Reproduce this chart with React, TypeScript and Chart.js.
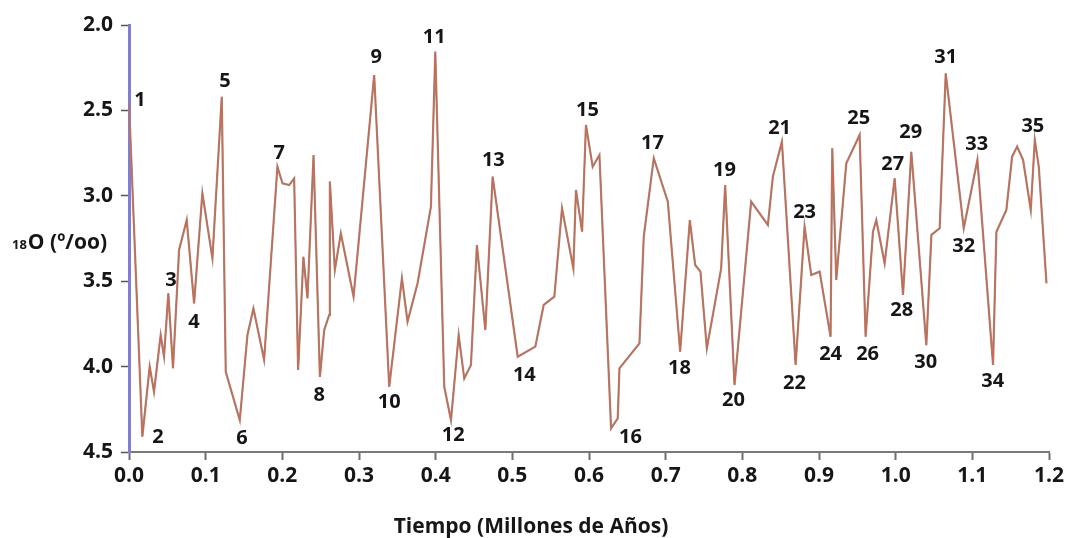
import React, { useEffect, useRef } from "react";
import { Chart, registerables } from "chart.js";

Chart.register(...registerables);

// Time (millions of years) and δ18O values (‰)
const times = [0, 0.0174, 0.027, 0.0326, 0.0413, 0.0457, 0.0513, 0.0574, 0.0653, 0.0753, 0.0849, 0.0957, 0.1088, 0.121, 0.1262, 0.1445, 0.1545, 0.1623, 0.1762, 0.1936, 0.2002, 0.2089, 0.2154, 0.2206, 0.2275, 0.2328, 0.2407, 0.249, 0.2546, 0.2611, 0.262, 0.2685, 0.2763, 0.2929, 0.3198, 0.3394, 0.356, 0.3633, 0.3764, 0.3938, 0.3995, 0.4112, 0.42, 0.43, 0.4373, 0.446, 0.4538, 0.4648, 0.4743, 0.507, 0.53, 0.5409, 0.5548, 0.5648, 0.5796, 0.583, 0.591, 0.596, 0.6048, 0.6136, 0.6288, 0.6375, 0.6397, 0.6658, 0.6714, 0.6845, 0.7028, 0.7189, 0.7315, 0.7385, 0.7454, 0.7537, 0.7724, 0.7776, 0.7898, 0.8115, 0.8333, 0.8398, 0.8516, 0.8695, 0.8812, 0.8899, 0.9008, 0.9151, 0.9173, 0.9225, 0.9356, 0.953, 0.9608, 0.9704, 0.9747, 0.9856, 0.9987, 1.0096, 1.0204, 1.04, 1.0466, 1.0574, 1.0653, 1.0888, 1.1066, 1.127, 1.1314, 1.1444, 1.1519, 1.1584, 1.1662, 1.1762, 1.1815, 1.1867, 1.1967];

const o18 = [2.45, 4.41, 4.0, 4.147, 3.815, 3.94, 3.571, 4.01, 3.317, 3.142, 3.63, 2.985, 3.366, 2.42, 4.03, 4.313, 3.815, 3.66, 3.96, 2.83, 2.927, 2.937, 2.898, 4.02, 3.357, 3.6, 2.761, 4.06, 3.786, 3.698, 2.917, 3.434, 3.22, 3.59, 2.293, 4.118, 3.483, 3.737, 3.512, 3.064, 2.156, 4.118, 4.313, 3.815, 4.07, 3.99, 3.288, 3.786, 2.888, 3.942, 3.883, 3.639, 3.59, 3.073, 3.425, 2.966, 3.21, 2.585, 2.83, 2.761, 4.361, 4.303, 4.01, 3.864, 3.24, 2.78, 3.034, 3.913, 3.142, 3.405, 3.444, 3.893, 3.425, 2.937, 4.108, 3.034, 3.171, 2.888, 2.683, 3.99, 3.181, 3.464, 3.444, 3.825, 2.722, 3.493, 2.81, 2.644, 3.825, 3.21, 3.142, 3.395, 2.898, 3.581, 2.742, 3.874, 3.229, 3.19, 2.283, 3.19, 2.79, 3.99, 3.21, 3.083, 2.771, 2.712, 2.79, 3.083, 2.673, 2.83, 3.512];

// Numbered stage labels (placed in data coordinates)
const stageNames = ["1","2","3","4","5","6","7","8","9","10","11","12","13","14","15","16","17","18","19","20","21","22","23","24","25","26","27","28","29","30","31","32","33","34","35"];
const stageTimes = [0.0144, 0.0379, 0.0548, 0.0849, 0.1253, 0.1475, 0.1958, 0.248, 0.3225, 0.3394, 0.3982, 0.423, 0.4752, 0.5157, 0.5979, 0.654, 0.6828, 0.718, 0.7768, 0.7885, 0.8486, 0.8681, 0.8812, 0.9151, 0.9517, 0.9634, 0.9961, 1.0078, 1.0196, 1.0392, 1.0653, 1.0888, 1.1057, 1.1266, 1.1789];
const stageValues = [2.439, 4.412, 3.493, 3.739, 2.328, 4.418, 2.749, 4.166, 2.187, 4.207, 2.07, 4.4, 2.79, 4.049, 2.498, 4.412, 2.691, 4.008, 2.849, 4.196, 2.603, 4.096, 3.095, 3.926, 2.545, 3.926, 2.814, 3.669, 2.626, 3.973, 2.187, 3.294, 2.697, 4.084, 2.591];

const xTicks = [0, 0.1, 0.2, 0.3, 0.4, 0.5, 0.6, 0.7, 0.8, 0.9, 1.0, 1.1, 1.2];
const yTicks = [2.0, 2.5, 3.0, 3.5, 4.0, 4.5];

const xTitle = "Tiempo (Millones de Años)";
const yTitleSup = "18";
const yTitleMain = "O (º/oo)";

const FONT = "'Open Sans', 'DejaVu Sans', sans-serif";
const TEXT = "#161616";

const labelsPlugin = {
  id: "stageLabels",
  afterDraw(chart: any) {
    const ctx = chart.ctx;
    const xs = chart.scales.x;
    const ys = chart.scales.y;
    ctx.save();
    ctx.fillStyle = TEXT;
    ctx.textAlign = "center";
    ctx.textBaseline = "middle";
    ctx.font = `bold 20px ${FONT}`;
    stageNames.forEach((n, i) => {
      ctx.fillText(n, xs.getPixelForValue(stageTimes[i]), ys.getPixelForValue(stageValues[i]));
    });
    // x title
    ctx.font = `bold 21px ${FONT}`;
    ctx.fillText(xTitle, 531, 527);
    // y title (horizontal)
    ctx.textAlign = "left";
    ctx.textBaseline = "alphabetic";
    ctx.font = `bold 13px ${FONT}`;
    ctx.fillText(yTitleSup, 12, 249);
    const w = ctx.measureText(yTitleSup).width;
    ctx.font = `bold 21px ${FONT}`;
    ctx.fillText(yTitleMain, 12 + w + 1, 249);
    ctx.restore();
  },
};

export default function App() {
  const ref = useRef<HTMLCanvasElement | null>(null);
  useEffect(() => {
    if (!ref.current) return;
    const pts = times.map((t, i) => ({ x: t, y: o18[i] }));
    const chart = new Chart(ref.current, {
      type: "line",
      data: {
        datasets: [
          {
            data: pts,
            borderColor: "#d3664a",
            borderWidth: 1.2,
            pointRadius: 0,
            tension: 0,
          },
          {
            data: pts,
            borderColor: "#959089",
            borderWidth: 2.2,
            pointRadius: 0,
            tension: 0,
          },
        ],
      },
      options: {
        animation: false,
        responsive: false,
        devicePixelRatio: 1,
        layout: { padding: { left: 0, top: 25, right: 20, bottom: 0 } },
        plugins: { legend: { display: false }, tooltip: { enabled: false }, title: { display: false } },
        scales: {
          x: {
            type: "linear",
            min: 0,
            max: 1.2,
            afterFit(s: any) { s.height = 86; },
            afterBuildTicks(s: any) { s.ticks = xTicks.map((v) => ({ value: v })); },
            ticks: {
              callback: (v: any) => Number(v).toFixed(1),
              font: { family: FONT, size: 21, weight: "bold" },
              color: TEXT,
              padding: 3,
              maxRotation: 0,
              autoSkip: false,
            },
            grid: { drawOnChartArea: false, drawTicks: true, tickLength: 8, tickColor: "#6e6e6e", tickWidth: 2 },
            border: { color: "#7a7a7a", width: 2 },
          },
          y: {
            type: "linear",
            min: 2,
            max: 4.5,
            reverse: true,
            afterFit(s: any) { s.width = 129; },
            afterBuildTicks(s: any) { s.ticks = yTicks.map((v) => ({ value: v })); },
            ticks: {
              callback: (v: any) => Number(v).toFixed(1),
              font: { family: FONT, size: 21, weight: "bold" },
              color: TEXT,
              padding: 8,
              autoSkip: false,
            },
            grid: { drawOnChartArea: false, drawTicks: true, tickLength: 8, tickColor: "#555555", tickWidth: 1.5 },
            border: { color: "#7f7dd6", width: 3 },
          },
        },
      },
      plugins: [labelsPlugin],
    } as any);
    return () => chart.destroy();
  }, []);
  return (
    <div style={{ position: "fixed", left: 0, top: 0, width: 1069, height: 538, background: "#fff" }}>
      <canvas ref={ref} width={1069} height={538} style={{ width: 1069, height: 538 }} />
    </div>
  );
}
